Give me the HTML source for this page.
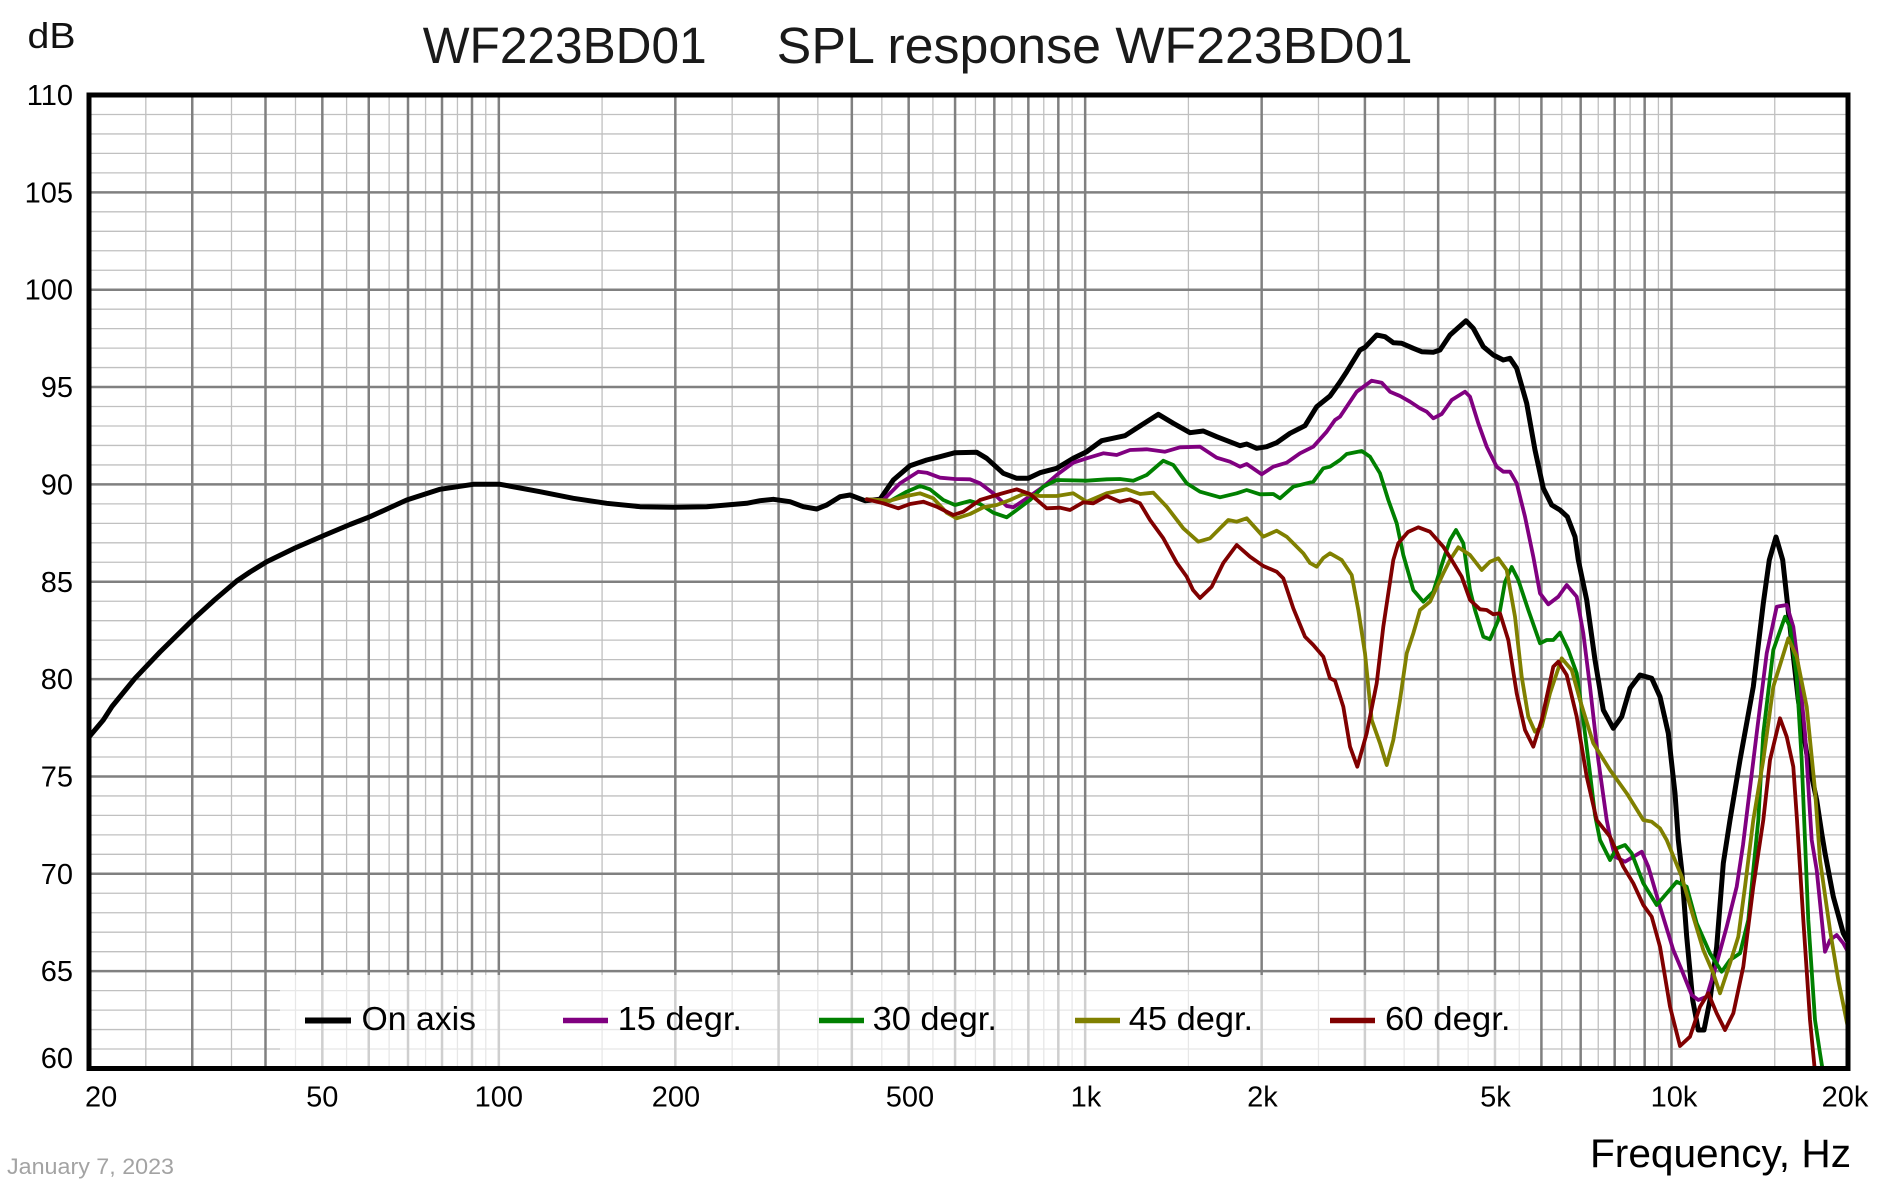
<!DOCTYPE html>
<html><head><meta charset="utf-8"><style>html,body{margin:0;padding:0;background:#fff;}svg{display:block}</style></head>
<body>
<svg width="1877" height="1185" viewBox="0 0 1877 1185" xmlns="http://www.w3.org/2000/svg" font-family="'Liberation Sans', Arial, sans-serif">
<defs><clipPath id="pc"><rect x="89" y="95" width="1759" height="973.5"/></clipPath></defs>
<rect width="1877" height="1185" fill="#fff"/>
<!-- light grid -->
<path fill="none" stroke="#c0c0c0" stroke-width="1.3" d="M145.82 95V1068.5M231.5 95V1068.5M295.5 95V1068.5M346.59 95V1068.5M389.13 95V1068.5M425.58 95V1068.5M457.45 95V1068.5M485.76 95V1068.5M602.08 95V1068.5M732.15 95V1068.5M817.83 95V1068.5M881.83 95V1068.5M932.92 95V1068.5M975.46 95V1068.5M1011.91 95V1068.5M1043.78 95V1068.5M1072.09 95V1068.5M1188.41 95V1068.5M1318.48 95V1068.5M1404.16 95V1068.5M1468.16 95V1068.5M1519.25 95V1068.5M1561.79 95V1068.5M1598.24 95V1068.5M1630.11 95V1068.5M1658.42 95V1068.5M1774.74 95V1068.5
M89 114.47H1848M89 133.94H1848M89 153.41H1848M89 172.88H1848M89 211.82H1848M89 231.29H1848M89 250.76H1848M89 270.23H1848M89 309.17H1848M89 328.64H1848M89 348.11H1848M89 367.58H1848M89 406.52H1848M89 425.99H1848M89 445.46H1848M89 464.93H1848M89 503.87H1848M89 523.34H1848M89 542.81H1848M89 562.28H1848M89 601.22H1848M89 620.69H1848M89 640.16H1848M89 659.63H1848M89 698.57H1848M89 718.04H1848M89 737.51H1848M89 756.98H1848M89 795.92H1848M89 815.39H1848M89 834.86H1848M89 854.33H1848M89 893.27H1848M89 912.74H1848M89 932.21H1848M89 951.68H1848M89 990.62H1848M89 1010.09H1848M89 1029.56H1848M89 1049.03H1848"/>
<!-- dark grid -->
<path fill="none" stroke="#808080" stroke-width="2.5" d="M192.25 95V1068.5M265.5 95V1068.5M322.33 95V1068.5M368.75 95V1068.5M408.01 95V1068.5M442.01 95V1068.5M472 95V1068.5M498.83 95V1068.5M675.33 95V1068.5M778.58 95V1068.5M851.83 95V1068.5M908.66 95V1068.5M955.08 95V1068.5M994.34 95V1068.5M1028.34 95V1068.5M1058.33 95V1068.5M1085.16 95V1068.5M1261.66 95V1068.5M1364.91 95V1068.5M1438.16 95V1068.5M1494.99 95V1068.5M1541.41 95V1068.5M1580.67 95V1068.5M1614.67 95V1068.5M1644.66 95V1068.5M1671.49 95V1068.5
M89 192.35H1848M89 289.7H1848M89 387.05H1848M89 484.4H1848M89 581.75H1848M89 679.1H1848M89 776.45H1848M89 873.8H1848M89 971.15H1848"/>
<!-- legend box -->
<rect x="280" y="975" width="1260" height="93" fill="#fff" fill-opacity="0.62"/>
<g clip-path="url(#pc)" fill="none" stroke-linejoin="round" stroke-linecap="round">
<polyline stroke="#000" stroke-width="5" points="89,737 103.3,720 112,706.5 135,678.3 160,652 194.3,618.3 215,599.5 236.7,581 250,572 266.7,561.7 295,548 325,535 350,524.5 370,516.7 406.7,500 440,489.3 473.3,484.3 500,484.3 540,491.7 573.3,498.3 606.7,503.3 640,506.7 673.3,507.3 706.7,506.7 746.7,503.3 760,500.7 773.3,499.3 790,501.7 803.3,506.7 816.7,509 826.7,505 840,496.7 850,495 865,500.7 880,499.3 893.3,480 910,465.7 926.7,460 940,456.7 955,452.7 976.7,452.3 986.7,458.3 1003.3,473.3 1016.7,478.3 1028.3,478.3 1040,472.7 1056.7,468.3 1073.3,458.3 1086.7,451.7 1101.7,440.7 1125,435.7 1140,426 1158.3,414.3 1173.3,423.3 1190,432.7 1203.3,431 1216.7,436.7 1240,445.7 1246.7,444 1256.7,448.3 1266.7,446.7 1276.7,442.7 1290,433.3 1305,425.7 1316.7,406.7 1330,396 1340,382 1346.7,371.7 1360,350 1365,347.3 1376.7,335 1385,336.7 1393.3,342.7 1401.7,343.3 1413.3,348.3 1421.7,351.7 1433.3,352.3 1440,350 1450,335 1466,320.7 1473.3,328.3 1483.3,346.7 1493.3,355 1503.3,360 1510,358.3 1516.7,368.3 1526.7,403.3 1535,450 1543.3,488.3 1551.7,505 1560,510 1567.3,516.7 1575,536.7 1578.3,560 1586.7,600 1595,660 1603.3,710 1613.3,728.3 1621.7,716.7 1630,688.3 1640,675 1651.7,678.3 1660,696.7 1668.3,733.3 1675,793.3 1678.3,840 1681.7,870 1686.7,936.7 1692.7,1000 1698.3,1030 1704,1030 1710,1000 1716.7,946.7 1723.3,863.3 1730,820 1740,760 1753.3,686.7 1763.3,603.3 1769.3,560 1776,537 1782.7,560 1790,626.7 1798.3,700 1806.7,753.3 1816.7,800 1822,835 1825,853 1833.3,896.7 1843.3,933.3 1848,942"/>
<polyline stroke="#800080" stroke-width="3.8" points="866.7,499.3 883.3,500 900,483.3 918.3,471.7 926.7,472.7 940,477.7 955,479 970,479.3 980,483.3 993.3,493.3 1006.7,506 1013.3,507.3 1026.7,498.3 1043.3,486.7 1056.7,475 1073.3,462.7 1086.7,458.3 1103.3,453.3 1116.7,455 1130,450 1146.7,449.3 1165,451.7 1180,447.3 1200,446.7 1216.7,457.7 1230,461.7 1240,466.7 1246.7,464 1261.7,474.3 1273.3,466.7 1286.7,462.7 1300,453.3 1313.3,446.7 1326.7,431.7 1335,420 1340,416.7 1356.7,391.7 1371.7,380.7 1381.7,382.7 1390,391.7 1400,396 1410,401.7 1420,408.3 1426.7,411.7 1433.3,418.3 1441.7,414 1451.7,400 1465,391.7 1470,396.7 1478.3,423.3 1486.7,446.7 1496.7,466.7 1503.3,471.7 1510,471.7 1516.7,483.3 1525,516.7 1533.3,556.7 1540,593.3 1548.3,604.3 1558.3,596.7 1566.7,585 1576.7,596.7 1583.3,633.3 1590,686.7 1598.3,760 1606.7,820 1610,836.7 1615,856.7 1625,861.7 1633.3,856.7 1641.7,851.7 1648.3,866.7 1660,906.7 1673.3,950 1681.7,970 1691.7,995 1698.3,1000 1706.7,996.7 1716.7,963.3 1726.7,926.7 1736.7,886.7 1743,845 1756.7,733.3 1766.7,653.3 1776.7,606.7 1786.7,605 1793.3,626.7 1800,680 1805,733.3 1811.7,840 1816.7,870 1825,951.7 1830,940 1836.7,935 1843.3,943.3 1848,952"/>
<polyline stroke="#008000" stroke-width="3.8" points="866.7,499.3 890,501 906.7,491.7 920,486 930,489.3 943.3,500 955,505 970,501 980,504 993.3,512.7 1006.7,517.3 1016.7,510 1030,500 1043.3,486.7 1056.7,480 1086.7,480.7 1106.7,479.3 1120,479 1133.3,480.7 1146.7,475 1163.3,460.7 1173.3,465 1186.7,483.3 1200,491.7 1220,497.3 1236.7,493.3 1246.7,490 1260,494.3 1273.3,494 1280,498.3 1293.3,486.7 1313.3,481.7 1323.3,468.3 1330,466.7 1340,460 1346.7,454 1361.7,451 1370,456.7 1380,473.3 1388.3,500 1396.7,523.3 1403.3,555 1413.3,590 1423.3,601.7 1433.3,591.7 1443.3,560 1450,540 1456,530 1463.3,543.3 1470,590 1475,610 1483.3,636.7 1490,639.3 1498.3,620 1505,582 1511.7,567 1518.3,580 1528.3,610 1540,643.3 1546.7,640 1553.3,640 1560,632.7 1568.3,650 1576.7,673.3 1583.3,720 1590,773.3 1595,815 1600,840 1610,860 1616.7,848.3 1625,845 1631.7,853.3 1643.3,883.3 1656.7,905 1666.7,893.3 1676.7,881.7 1686.7,886.7 1696.7,923.3 1710,953.3 1721.7,971.7 1730,960 1740,953.3 1748.3,920 1758.3,820 1763.3,733.3 1773.3,650 1785,616.7 1790,626.7 1796.7,676.7 1801.7,760 1805,840 1808.3,920 1815,1020 1820,1053.3 1823,1072"/>
<polyline stroke="#808000" stroke-width="3.8" points="866.7,499.3 890,500.7 906.7,496 920,493.3 933.3,498.3 946.7,512.7 956.7,518.3 970,514 983.3,507.3 996.7,505 1010,500 1023.3,494 1040,496 1056.7,496 1073.3,493.3 1086.7,501.7 1106.7,493.3 1126.7,489.3 1140,494 1153.3,492.7 1166.7,506.7 1183.3,528.3 1198.3,541.7 1210,538.3 1228.3,520 1236.7,521.7 1246.7,518.3 1263.3,536.7 1276.7,530.7 1286.7,536.7 1303.3,553.3 1310,563 1316.7,566.7 1323.3,558 1330,553.3 1341.7,560 1351.7,575 1358.3,610 1365,653.3 1371.7,720 1380,743.3 1386.7,765 1393.3,740 1400,700 1406.7,653.3 1413.3,633.3 1420,610 1430,601.7 1443.3,573.3 1450,560 1458.3,547.3 1470,555 1481.7,570 1490,561.7 1498.3,558.3 1506.7,570 1515,616.7 1521.7,676.7 1528.3,716.7 1535,731.7 1541.7,726.7 1550,693.3 1561.7,658.3 1571.7,670 1580,700 1593.3,743.3 1610,770 1626.7,793.3 1643.3,820 1651.7,821.7 1660,828.3 1666.7,840 1681.7,876.7 1693.3,916.7 1703.3,950 1713.3,973.3 1720,993.3 1730,963.3 1738.3,936.7 1745,886.7 1753.3,820 1763.3,760 1773.3,686.7 1788.3,638.3 1796.7,656.7 1806.7,706.7 1815,790 1820,860 1830,930 1838.3,980 1848,1028"/>
<polyline stroke="#800000" stroke-width="3.8" points="866.7,499.3 883.3,503.3 898.3,508.3 910,504 923.3,501.7 936.7,506.7 953.3,515 963.3,511.7 980,500 1000,494 1016.7,489.3 1030,494 1046.7,508.3 1060,507.7 1070,510 1083.3,502.3 1093.3,503.3 1106.7,496 1120,501.7 1130,499.3 1140,503.3 1150,520 1163.3,538.3 1176.7,562.7 1186.7,576.7 1193,590 1200,598 1211.7,586.7 1223.3,563 1236.7,545 1250,556.7 1263.3,566 1276.7,571.7 1283.3,578.3 1293.3,608.3 1305,636.7 1313.3,645 1323.3,656.7 1330,678.3 1335,680.7 1343.3,706.7 1350,746.7 1357.3,766.7 1366.7,733.3 1376.7,683.3 1383.3,626.7 1393.3,560 1398.3,543.3 1408,532 1418.3,527.3 1430,531.7 1443.3,546.7 1451.7,560 1461.7,576.7 1470,600 1480,609.3 1486.7,610 1493.3,614.3 1500,613.3 1508.3,640 1516.7,693.3 1525,730 1533.3,746.7 1541.7,720 1553.3,666.7 1558.3,661.7 1566.7,675 1576.7,716.7 1586.7,776.7 1596.7,820 1610,836.7 1623.3,866.7 1633.3,883.3 1643.3,905 1651.7,916.7 1660,946.7 1670,1006.7 1680,1046 1690,1036.7 1700,1006.7 1708.3,993.3 1716.7,1013.3 1725,1030 1733.3,1013.3 1743.3,966.7 1753.3,886.7 1763.3,820 1770,760 1780,718.3 1786.7,736.7 1793.3,766.7 1797,820 1803.3,920 1810,1020 1815,1072"/>
</g>
<!-- border -->
<rect x="89" y="95" width="1759" height="973.5" fill="none" stroke="#000" stroke-width="5"/>
<!-- legend -->
<g stroke-width="5.5">
<line x1="305" y1="1020.5" x2="351" y2="1020.5" stroke="#000" stroke-width="6"/>
<line x1="563" y1="1020.5" x2="608" y2="1020.5" stroke="#800080"/>
<line x1="819" y1="1020.5" x2="864" y2="1020.5" stroke="#008000"/>
<line x1="1075" y1="1020.5" x2="1120" y2="1020.5" stroke="#808000"/>
<line x1="1330" y1="1020.5" x2="1375" y2="1020.5" stroke="#800000"/>
</g>
<g font-size="33" fill="#000">
<text x="361.5" y="1030" textLength="114.5" lengthAdjust="spacingAndGlyphs">On axis</text>
<text x="617.7" y="1030" textLength="124.3" lengthAdjust="spacingAndGlyphs">15 degr.</text>
<text x="872.6" y="1030" textLength="124.3" lengthAdjust="spacingAndGlyphs">30 degr.</text>
<text x="1128.8" y="1030" textLength="124.3" lengthAdjust="spacingAndGlyphs">45 degr.</text>
<text x="1385" y="1030" textLength="125.5" lengthAdjust="spacingAndGlyphs">60 degr.</text>
</g>
<!-- y labels -->
<g font-size="29" fill="#000" text-anchor="end">
<text x="73" y="105">110</text>
<text x="73" y="202.4">105</text>
<text x="73" y="299.7">100</text>
<text x="73" y="397">95</text>
<text x="73" y="494.4">90</text>
<text x="73" y="591.8">85</text>
<text x="73" y="689.1">80</text>
<text x="73" y="786.5">75</text>
<text x="73" y="883.8">70</text>
<text x="73" y="981.2">65</text>
<text x="73" y="1068">60</text>
</g>
<!-- x labels -->
<g font-size="29" fill="#000" text-anchor="middle">
<text x="85" y="1106.5" text-anchor="start">20</text>
<text x="322.3" y="1106.5">50</text>
<text x="498.8" y="1106.5">100</text>
<text x="676" y="1106.5">200</text>
<text x="910" y="1106.5">500</text>
<text x="1086" y="1106.5">1k</text>
<text x="1262.5" y="1106.5">2k</text>
<text x="1495.5" y="1106.5">5k</text>
<text x="1674" y="1106.5">10k</text>
<text x="1845" y="1106.5">20k</text>
</g>
<text x="27.5" y="48" font-size="36" fill="#111" textLength="48" lengthAdjust="spacingAndGlyphs">dB</text>
<text x="422.7" y="63" font-size="51" fill="#1a1a1a" textLength="284" lengthAdjust="spacingAndGlyphs">WF223BD01</text>
<text x="776.7" y="63" font-size="51" fill="#1a1a1a" textLength="636" lengthAdjust="spacingAndGlyphs">SPL response WF223BD01</text>
<text x="1590" y="1167" font-size="40" fill="#000" textLength="261" lengthAdjust="spacingAndGlyphs">Frequency, Hz</text>
<text x="7" y="1174" font-size="22" fill="#a3a3a3" textLength="167" lengthAdjust="spacingAndGlyphs">January 7, 2023</text>
</svg>
</body></html>
